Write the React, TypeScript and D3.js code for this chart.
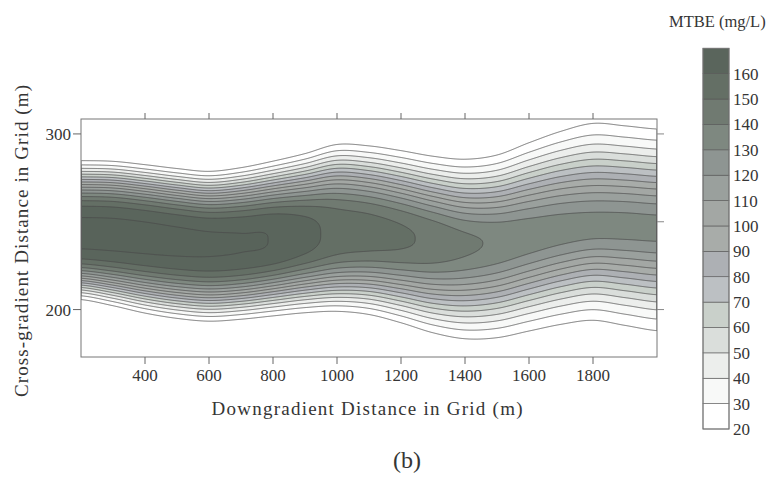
import React, { useMemo } from "react";
import * as d3 from "d3";

// Stations along the downgradient axis (m)
const stations = [200, 300, 400, 500, 600, 700, 800, 900, 1000, 1100, 1200, 1300, 1400, 1500, 1600, 1700, 1800, 1900, 2000];
// Peak MTBE concentration on the plume axis (mg/L)
const peakConc = [172, 172, 171.8, 171.4, 170.9, 170.4, 169.6, 163.8, 156.5, 154.2, 151.6, 147.6, 142.2, 138.6, 136.4, 135.2, 134.6, 134.5, 134.3];
// Cross-gradient position of the plume axis (m)
const plumeCenter = [243, 242.5, 241, 239, 237.5, 238, 240, 242, 243.5, 243.5, 241.5, 239, 237.5, 238.5, 242, 245.5, 247.5, 247.5, 246.5];
// Upper and lower position of the 20 mg/L contour (m)
const topEdge20 = [284.8, 284.4, 282.5, 280.3, 278.7, 280.8, 284.5, 288.8, 294.0, 293.2, 290.5, 287.3, 285.6, 288.0, 295.0, 301.5, 306.0, 304.6, 302.8];
const bottomEdge20 = [205.7, 202.2, 198.0, 195.0, 193.4, 194.5, 196.4, 198.2, 199.0, 197.2, 192.5, 186.8, 183.4, 184.0, 187.8, 191.6, 193.9, 191.0, 188.0];
// Flatness of the cross-gradient profile
const profileShape = [3.5, 3.5, 3.45, 3.4, 3.35, 3.3, 3.2, 3.1, 3.0, 2.85, 2.7, 2.55, 2.4, 2.3, 2.2, 2.1, 2.0, 2.0, 2.0];

const levels = [20, 30, 40, 50, 60, 70, 80, 90, 100, 110, 120, 130, 140, 150, 160, 170];
const bandColors = [
  "#ffffff", "#f8f9f8", "#eceeec", "#dadedb", "#c9d0ca", "#bcc0c3", "#adb0b4",
  "#a8aca9", "#a3a7a4", "#9aa09d", "#8e9592", "#7e8880", "#707a71", "#646f65", "#5a655c", "#58635a",
];
const xTicks = [400, 600, 800, 1000, 1200, 1400, 1600, 1800];
const yTicksLeft = [200, 300];
const yTicksRight = [200, 250, 300];
const colorbarLabels = [20, 30, 40, 50, 60, 70, 80, 90, 100, 110, 120, 130, 140, 150, 160];

const FONT = "'Liberation Serif', 'Times New Roman', serif";
const TXT = "#353535";

function spline(arr: number[], x: number): number {
  const step = stations[1] - stations[0];
  const n = arr.length;
  const t = (x - stations[0]) / step;
  let i = Math.floor(t);
  if (i < 0) i = 0;
  if (i > n - 2) i = n - 2;
  const u = t - i;
  const p0 = arr[Math.max(i - 1, 0)];
  const p1 = arr[i];
  const p2 = arr[i + 1];
  const p3 = arr[Math.min(i + 2, n - 1)];
  return 0.5 * (2 * p1 + (-p0 + p2) * u + (2 * p0 - 5 * p1 + 4 * p2 - p3) * u * u + (-p0 + 3 * p1 - 3 * p2 + p3) * u * u * u);
}

function conc(x: number, y: number): number {
  const P = spline(peakConc, x);
  const yc = spline(plumeCenter, x);
  const top = spline(topEdge20, x);
  const bot = spline(bottomEdge20, x);
  const p = spline(profileShape, x);
  const d = y - yc;
  const hw = d > 0 ? top - yc : yc - bot;
  const s = hw / Math.pow(Math.log(P / 20), 1 / p);
  return P * Math.exp(-Math.pow(Math.abs(d) / s, p));
}

export default function App() {
  const W = 772, H = 477;
  const plot = { left: 81, top: 119, right: 657, bottom: 357 };
  const xScale = d3.scaleLinear().domain([200, 2000]).range([plot.left, plot.right]);
  const yScale = d3.scaleLinear().domain([173, 308.5]).range([plot.bottom, plot.top]);
  const cb = { left: 703, width: 26, top: 48.3, bottom: 429 };
  const cbScale = d3.scaleLinear().domain([20, 170]).range([cb.bottom, cb.top]);

  const gw = plot.right - plot.left;
  const gh = plot.bottom - plot.top;

  const contours = useMemo(() => {
    const values = new Float64Array(gw * gh);
    for (let j = 0; j < gh; j++) {
      const y = yScale.invert(plot.top + j + 0.5);
      for (let i = 0; i < gw; i++) {
        const x = xScale.invert(plot.left + i + 0.5);
        values[j * gw + i] = conc(x, y);
      }
    }
    return d3.contours().size([gw, gh]).thresholds(levels)(Array.from(values));
  }, []);

  const path = d3.geoPath(d3.geoIdentity().translate([plot.left, plot.top]) as any);

  return (
    <svg width={W} height={H} style={{ display: "block", position: "absolute", left: 0, top: 0, background: "#fff" }}>
      <defs>
        <clipPath id="plotClip">
          <rect x={plot.left} y={plot.top} width={gw} height={gh} />
        </clipPath>
      </defs>
      <rect x={0} y={0} width={W} height={H} fill="#fff" />
      <g clipPath="url(#plotClip)">
        {contours.map((c, k) => (
          <path key={"f" + k} d={path(c as any) || ""} fill={bandColors[k]} stroke="none" />
        ))}
        {contours.map((c, k) => (
          <path key={"l" + k} d={path(c as any) || ""} fill="none" stroke="#4a4a4a" strokeWidth={0.75} />
        ))}
      </g>
      <rect x={plot.left} y={plot.top} width={gw} height={gh} fill="none" stroke="#777" strokeWidth={1} />

      {xTicks.map((t) => (
        <g key={"xt" + t}>
          <line x1={xScale(t)} x2={xScale(t)} y1={plot.bottom} y2={plot.bottom + 7} stroke="#666" />
          <line x1={xScale(t)} x2={xScale(t)} y1={plot.top} y2={plot.top - 6} stroke="#666" />
          <text x={xScale(t)} y={381} textAnchor="middle" fontFamily={FONT} fontSize={17} fill={TXT}>{t}</text>
        </g>
      ))}
      {yTicksLeft.map((t) => (
        <g key={"yl" + t}>
          <line x1={plot.left - 8} x2={plot.left} y1={yScale(t)} y2={yScale(t)} stroke="#666" />
          <text x={71} y={yScale(t) + 6} textAnchor="end" fontFamily={FONT} fontSize={17} fill={TXT}>{t}</text>
        </g>
      ))}
      {yTicksRight.map((t) => (
        <line key={"yr" + t} x1={plot.right} x2={plot.right + 7} y1={yScale(t)} y2={yScale(t)} stroke="#888" />
      ))}

      <text x={367} y={415} textAnchor="middle" fontFamily={FONT} fontSize={19} fill={TXT} textLength={311} lengthAdjust="spacing">
        Downgradient Distance in Grid (m)
      </text>
      <text transform="translate(28,241) rotate(-90)" textAnchor="middle" fontFamily={FONT} fontSize={19} fill={TXT} textLength={312} lengthAdjust="spacing">
        Cross-gradient Distance in Grid (m)
      </text>
      <text x={407} y={468} textAnchor="middle" fontFamily={FONT} fontSize={24} fill={TXT}>(b)</text>

      <text x={669} y={26.5} fontFamily={FONT} fontSize={16.5} fill={TXT}>MTBE (mg/L)</text>
      {levels.slice(0, 15).map((lv, k) => (
        <rect key={"cb" + k} x={cb.left} y={cbScale(lv + 10)} width={cb.width} height={cbScale(lv) - cbScale(lv + 10)}
          fill={bandColors[k]} stroke="#555" strokeWidth={0.6} />
      ))}
      <rect x={cb.left} y={cb.top} width={cb.width} height={cb.bottom - cb.top} fill="none" stroke="#777" strokeWidth={1} />
      {colorbarLabels.map((lv) => (
        <text key={"cl" + lv} x={733} y={cbScale(lv) + 6} fontFamily={FONT} fontSize={17} fill={TXT}>{lv}</text>
      ))}
    </svg>
  );
}
